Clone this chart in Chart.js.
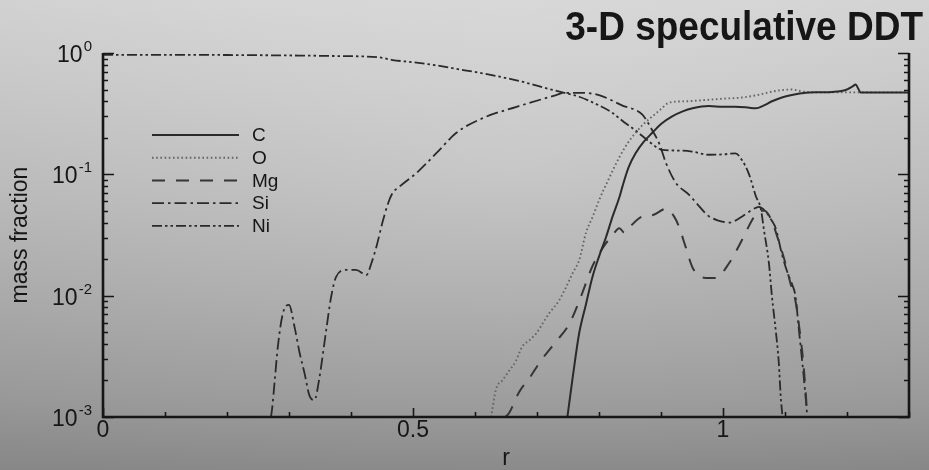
<!DOCTYPE html>
<html>
<head>
<meta charset="utf-8">
<script src="https://cdn.jsdelivr.net/npm/chart.js@4.4.0/dist/chart.umd.min.js"></script>
<style>
  html, body { margin: 0; padding: 0; }
  body {
    width: 929px; height: 470px; overflow: hidden;
    background: linear-gradient(to bottom, #dbdbdb 0%, #d0d0d0 18%, #c2c2c2 40%, #b2b2b2 62%, #a0a0a0 85%, #8e8e8e 100%);
  }
  #wrap { position: relative; width: 929px; height: 470px;
    background: radial-gradient(ellipse 70% 90% at 55% 35%, rgba(255,255,255,0.05), rgba(0,0,0,0.05)); }
</style>
</head>
<body>
<div id="wrap"><canvas id="chart" width="929" height="470"></canvas></div>
<script>
// radius r and mass fraction of each element
const rC = [0.749, 0.758, 0.768, 0.779, 0.789, 0.80, 0.811, 0.822, 0.833, 0.838, 0.848, 0.859, 0.872, 0.886, 0.90, 0.918, 0.935, 0.951, 0.977, 1.0, 1.02, 1.04, 1.053, 1.066, 1.079, 1.095, 1.111, 1.134, 1.155, 1.176, 1.195, 1.203, 1.209, 1.214, 1.218, 1.222, 1.25, 1.3]
const massC = [0.001, 0.0022, 0.0049, 0.0085, 0.014, 0.021, 0.030, 0.045, 0.065, 0.08, 0.115, 0.149, 0.185, 0.22, 0.26, 0.30, 0.33, 0.35, 0.365, 0.36, 0.36, 0.355, 0.35, 0.37, 0.40, 0.43, 0.45, 0.47, 0.475, 0.478, 0.49, 0.51, 0.53, 0.55, 0.51, 0.472, 0.472, 0.472]

const rO = [0.626, 0.634, 0.644, 0.655, 0.666, 0.676, 0.688, 0.699, 0.71, 0.72, 0.736, 0.747, 0.758, 0.768, 0.779, 0.79, 0.80, 0.815, 0.833, 0.846, 0.859, 0.872, 0.886, 0.90, 0.913, 0.94, 0.972, 1.0, 1.031, 1.055, 1.079, 1.095, 1.111, 1.13, 1.16, 1.2, 1.25, 1.3]
const massO = [0.001, 0.0017, 0.002, 0.0024, 0.0029, 0.0038, 0.0043, 0.0049, 0.006, 0.0072, 0.0092, 0.0118, 0.0155, 0.0196, 0.033, 0.045, 0.061, 0.09, 0.139, 0.18, 0.22, 0.26, 0.30, 0.345, 0.39, 0.40, 0.41, 0.42, 0.43, 0.45, 0.48, 0.495, 0.50, 0.48, 0.474, 0.474, 0.474, 0.474]

const rMg = [0.649, 0.655, 0.671, 0.688, 0.706, 0.731, 0.749, 0.757, 0.773, 0.789, 0.811, 0.819, 0.833, 0.841, 0.85, 0.870, 0.886, 0.908, 0.921, 0.929, 0.940, 0.951, 0.972, 0.988, 1.01, 1.031, 1.047, 1.058, 1.067, 1.078, 1.09, 1.10, 1.11, 1.117, 1.124, 1.129, 1.133, 1.136]
const massMg = [0.001, 0.00108, 0.0016, 0.0021, 0.0029, 0.0042, 0.0055, 0.0066, 0.0105, 0.0173, 0.027, 0.030, 0.036, 0.033, 0.037, 0.045, 0.046, 0.052, 0.045, 0.037, 0.025, 0.017, 0.014, 0.014, 0.0186, 0.029, 0.042, 0.05, 0.05, 0.042, 0.028, 0.019, 0.012, 0.009, 0.005, 0.003, 0.0017, 0.001]

const rSi = [0.271, 0.273, 0.277, 0.282, 0.290, 0.300, 0.309, 0.317, 0.325, 0.333, 0.341, 0.349, 0.360, 0.368, 0.376, 0.392, 0.408, 0.425, 0.433, 0.441, 0.451, 0.46, 0.467, 0.478, 0.506, 0.538, 0.570, 0.612, 0.667, 0.731, 0.744, 0.768, 0.80, 0.837, 0.870, 0.886, 0.897, 0.908, 0.924, 0.945, 0.961, 0.975, 0.99, 1.01, 1.031, 1.047, 1.058, 1.068, 1.078, 1.085, 1.095, 1.104, 1.111, 1.117, 1.122, 1.126, 1.13, 1.133, 1.136]
const massSi = [0.001, 0.0012, 0.002, 0.0038, 0.0071, 0.0084, 0.0055, 0.0034, 0.0023, 0.0015, 0.00138, 0.0021, 0.0052, 0.0098, 0.0143, 0.0163, 0.0163, 0.0148, 0.0186, 0.0253, 0.0406, 0.058, 0.07, 0.079, 0.103, 0.15, 0.22, 0.29, 0.36, 0.45, 0.47, 0.47, 0.45, 0.37, 0.31, 0.23, 0.18, 0.124, 0.085, 0.068, 0.055, 0.046, 0.042, 0.040, 0.045, 0.051, 0.054, 0.05, 0.042, 0.036, 0.022, 0.0155, 0.0126, 0.0098, 0.0055, 0.0035, 0.0022, 0.0015, 0.001]

const rNi = [0, 0.12, 0.24, 0.37, 0.446, 0.467, 0.5, 0.531, 0.57, 0.612, 0.645, 0.676, 0.71, 0.744, 0.768, 0.8, 0.822, 0.84, 0.859, 0.881, 0.902, 0.929, 0.95, 0.977, 1.0, 1.02, 1.031, 1.042, 1.053, 1.061, 1.066, 1.074, 1.079, 1.085, 1.09, 1.093, 1.096]
const massNi = [0.965, 0.965, 0.96, 0.945, 0.92, 0.875, 0.84, 0.8, 0.74, 0.68, 0.63, 0.58, 0.52, 0.47, 0.436, 0.37, 0.32, 0.27, 0.23, 0.186, 0.159, 0.157, 0.154, 0.145, 0.146, 0.149, 0.13, 0.1, 0.066, 0.052, 0.035, 0.0186, 0.0098, 0.0052, 0.0028, 0.0015, 0.001]

const xTicks = [0, 0.5, 1]
const xTickLabels = ['0', '0.5', '1']
const yDecades = [0, -1, -2, -3]

const FONT = '"Liberation Sans", Arial, sans-serif'
const INK = '#161616'

function pts(rs, vals){
    return rs.map((r, i) => ({x: r, y: vals[i]}))
}

const series = [
    {label: 'C', data: pts(rC, massC), dash: [], color: '#2a2a2a', width: 2},
    {label: 'O', data: pts(rO, massO), dash: [1.6, 2.6], color: '#646464', width: 1.9},
    {label: 'Mg', data: pts(rMg, massMg), dash: [13, 11], color: '#353535', width: 2},
    {label: 'Si', data: pts(rSi, massSi), dash: [12, 4, 2.5, 4], color: '#2a2a2a', width: 1.8},
    {label: 'Ni', data: pts(rNi, massNi), dash: [10, 3, 2.5, 3, 2.5, 3], color: '#2a2a2a', width: 1.8}
]

// axes box, inward ticks, labels, legend and title
const frame = {
    id: 'frame',
    afterDatasetsDraw(chart){
        const ctx = chart.ctx
        const xs = chart.scales.x, ys = chart.scales.y
        const a = chart.chartArea
        ctx.save()
        ctx.strokeStyle = INK
        ctx.fillStyle = INK

        // y ticks on left and right axes
        ctx.lineWidth = 1.6
        for(let k = -3; k <= 0; k++){
            for(let m = 1; m <= 9; m++){
                if(k == 0 && m > 1) break
                let y = Math.round(ys.getPixelForValue(m * Math.pow(10, k))) + 0.5
                let len = m == 1 ? 11 : 5
                ctx.beginPath()
                ctx.moveTo(a.left, y); ctx.lineTo(a.left + len, y)
                ctx.moveTo(a.right, y); ctx.lineTo(a.right - len, y)
                ctx.stroke()
            }
        }
        // x ticks along the bottom
        for(let i = 0; i <= 13; i++){
            let v = i / 10
            let x = Math.round(xs.getPixelForValue(v)) + 0.5
            let len = (i % 5 == 0) ? 9 : 5
            ctx.beginPath()
            ctx.moveTo(x, a.bottom); ctx.lineTo(x, a.bottom - len)
            ctx.stroke()
        }

        // axis lines (no top border)
        ctx.lineWidth = 2.6
        ctx.beginPath()
        ctx.moveTo(a.left, a.top); ctx.lineTo(a.left, a.bottom); ctx.lineTo(a.right, a.bottom); ctx.lineTo(a.right, a.top)
        ctx.stroke()

        // x labels
        ctx.font = '23px ' + FONT
        ctx.textAlign = 'center'
        ctx.textBaseline = 'middle'
        xTicks.forEach((v, i) => {
            ctx.fillText(xTickLabels[i], xs.getPixelForValue(v), 431)
        })

        // y labels as 10 with a raised exponent
        for(let k of yDecades){
            let y = ys.getPixelForValue(Math.pow(10, k))
            let exp = String(k)
            ctx.font = '15px ' + FONT
            let ew = ctx.measureText(exp).width
            let right = 92
            ctx.textAlign = 'left'
            ctx.textBaseline = 'alphabetic'
            ctx.fillText(exp, right - ew, y - 2)
            ctx.font = '23px ' + FONT
            ctx.textAlign = 'right'
            ctx.fillText('10', right - ew - 1, y + 9)
        }

        // axis titles
        ctx.font = '23px ' + FONT
        ctx.textAlign = 'center'
        ctx.textBaseline = 'middle'
        ctx.fillText('r', (a.left + a.right) / 2, 459)
        ctx.save()
        ctx.translate(21, (a.top + a.bottom) / 2)
        ctx.rotate(-Math.PI / 2)
        ctx.fillText('mass fraction', 0, 0)
        ctx.restore()

        // legend
        ctx.font = '19px ' + FONT
        ctx.textAlign = 'left'
        series.forEach((s, i) => {
            let y = 135 + i * 22.7
            ctx.strokeStyle = s.color
            ctx.lineWidth = s.width
            ctx.setLineDash(s.dash)
            ctx.beginPath()
            ctx.moveTo(152, y); ctx.lineTo(239, y)
            ctx.stroke()
            ctx.setLineDash([])
            ctx.fillText(s.label, 252, y + 1)
        })

        // title
        ctx.font = 'bold 37px ' + FONT
        ctx.textAlign = 'right'
        ctx.textBaseline = 'alphabetic'
        ctx.save()
        ctx.translate(923, 40)
        ctx.scale(1, 1.08)
        ctx.fillText('3-D speculative DDT', 0, 0)
        ctx.restore()

        ctx.restore()
    }
}

new Chart(document.getElementById('chart'), {
    type: 'line',
    data: {
        datasets: series.map(s => ({
            label: s.label,
            data: s.data,
            borderColor: s.color,
            borderWidth: s.width,
            borderDash: s.dash,
            pointRadius: 0,
            fill: false,
            cubicInterpolationMode: 'monotone'
        }))
    },
    options: {
        responsive: false,
        animation: false,
        events: [],
        layout: {padding: {left: 103, right: 20, top: 53, bottom: 53}},
        scales: {
            x: {type: 'linear', min: 0, max: 1.3, display: false},
            y: {type: 'logarithmic', min: 0.001, max: 1, display: false}
        },
        plugins: {legend: {display: false}, tooltip: {enabled: false}}
    },
    plugins: [frame]
})
</script>
</body>
</html>
